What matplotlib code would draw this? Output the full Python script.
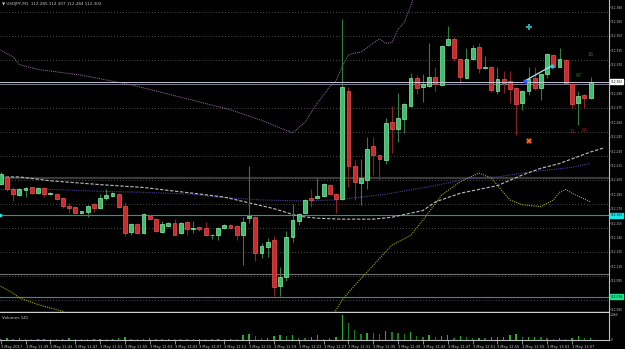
import matplotlib
matplotlib.use("Agg")
import matplotlib.pyplot as plt
import numpy as np

# USDJPY M1, bars from 3 May 11:35
opens = np.array([
    112.196, 112.203, 112.190, 112.184, 112.189, 112.192, 112.186, 112.191, 112.185, 112.185,
    112.181, 112.173, 112.172, 112.165, 112.166, 112.175, 112.171, 112.181, 112.183, 112.185,
    112.173, 112.146, 112.154, 112.145, 112.162, 112.159, 112.146, 112.152, 112.155, 112.145,
    112.156, 112.149, 112.151, 112.150, 112.142, 112.142, 112.150, 112.153, 112.152, 112.143,
    112.160, 112.161, 112.124, 112.130, 112.137, 112.089, 112.099, 112.140, 112.157, 112.165,
    112.181, 112.181, 112.183, 112.195, 112.185, 112.180, 112.293, 112.214, 112.197, 112.200,
    112.235, 112.226, 112.221, 112.260, 112.253, 112.263, 112.277, 112.306, 112.297, 112.298,
    112.307, 112.299, 112.340, 112.347, 112.326, 112.306, 112.326, 112.338, 112.316, 112.318,
    112.293, 112.305, 112.303, 112.296, 112.280, 112.293, 112.306, 112.296, 112.310, 112.330,
    112.318, 112.325, 112.300, 112.280, 112.288, 112.285])
highs = np.array([
    112.208, 112.204, 112.192, 112.191, 112.192, 112.193, 112.192, 112.192, 112.187, 112.186,
    112.182, 112.176, 112.173, 112.168, 112.174, 112.176, 112.185, 112.190, 112.187, 112.186,
    112.177, 112.155, 112.155, 112.165, 112.163, 112.160, 112.157, 112.156, 112.159, 112.156,
    112.157, 112.157, 112.152, 112.156, 112.144, 112.151, 112.154, 112.154, 112.153, 112.161,
    112.214, 112.162, 112.134, 112.139, 112.141, 112.109, 112.147, 112.175, 112.165, 112.180,
    112.190, 112.202, 112.197, 112.196, 112.186, 112.368, 112.297, 112.221, 112.222, 112.245,
    112.245, 112.227, 112.264, 112.277, 112.290, 112.280, 112.311, 112.309, 112.310, 112.342,
    112.317, 112.340, 112.360, 112.349, 112.327, 112.337, 112.340, 112.342, 112.329, 112.319,
    112.317, 112.313, 112.313, 112.297, 112.294, 112.317, 112.318, 112.311, 112.332, 112.331,
    112.337, 112.326, 112.301, 112.293, 112.289, 112.307])
lows = np.array([
    112.195, 112.188, 112.178, 112.183, 112.182, 112.185, 112.185, 112.182, 112.184, 112.179,
    112.171, 112.165, 112.164, 112.164, 112.161, 112.166, 112.170, 112.179, 112.182, 112.171,
    112.141, 112.143, 112.144, 112.144, 112.158, 112.146, 112.145, 112.151, 112.142, 112.144,
    112.143, 112.145, 112.147, 112.142, 112.138, 112.137, 112.149, 112.149, 112.137, 112.111,
    112.155, 112.115, 112.119, 112.120, 112.079, 112.079, 112.095, 112.135, 112.153, 112.164,
    112.172, 112.180, 112.182, 112.184, 112.165, 112.179, 112.192, 112.179, 112.174, 112.190,
    112.205, 112.200, 112.216, 112.228, 112.239, 112.249, 112.276, 112.289, 112.281, 112.297,
    112.293, 112.298, 112.339, 112.324, 112.301, 112.305, 112.325, 112.311, 112.315, 112.291,
    112.289, 112.290, 112.280, 112.247, 112.273, 112.288, 112.294, 112.283, 112.306, 112.316,
    112.317, 112.300, 112.274, 112.257, 112.275, 112.284])
closes = np.array([
    112.206, 112.190, 112.185, 112.190, 112.191, 112.186, 112.191, 112.185, 112.186, 112.180,
    112.173, 112.171, 112.165, 112.167, 112.173, 112.171, 112.181, 112.184, 112.186, 112.172,
    112.145, 112.154, 112.145, 112.164, 112.159, 112.147, 112.154, 112.155, 112.143, 112.155,
    112.149, 112.150, 112.149, 112.143, 112.143, 112.150, 112.153, 112.150, 112.143, 112.156,
    112.162, 112.124, 112.131, 112.135, 112.088, 112.099, 112.140, 112.158, 112.164, 112.179,
    112.179, 112.183, 112.196, 112.185, 112.180, 112.297, 112.214, 112.198, 112.202, 112.232,
    112.226, 112.222, 112.259, 112.253, 112.264, 112.279, 112.306, 112.296, 112.300, 112.307,
    112.300, 112.339, 112.347, 112.327, 112.307, 112.326, 112.337, 112.316, 112.318, 112.294,
    112.305, 112.301, 112.295, 112.279, 112.293, 112.305, 112.296, 112.310, 112.331, 112.318,
    112.326, 112.301, 112.279, 112.287, 112.285, 112.302])
volumes = np.array([
    60, 90, 50, 150, 70, 40, 60, 80, 50, 40, 60, 90, 70, 60, 40, 50, 60, 40, 50, 90,
    170, 60, 40, 50, 90, 60, 40, 70, 50, 60, 40, 50, 60, 50, 40, 70, 60, 80,
    67, 380, 437, 294, 100, 100, 294, 380, 294, 353, 151,
    150, 185, 380, 42, 100, 235, 2060, 1411, 798, 437, 571, 521, 437, 714, 605, 571,
    437, 630, 294, 185, 403, 235, 294, 353, 151, 294, 235, 126, 151, 126, 185, 185,
    235, 353, 437, 185, 235, 235, 185, 151, 42, 100, 67, 126, 269, 100, 141])

# indicator lines (bar index, price)
ma_fast_x = [0, 3, 8, 16, 23, 31, 36, 40, 44, 48, 51, 55, 60, 63, 68, 70, 74, 80, 84, 87, 90, 95, 97]
ma_fast_y = [112.203, 112.203, 112.199, 112.195, 112.192, 112.186, 112.182, 112.176, 112.170, 112.162,
             112.160, 112.159, 112.159, 112.161, 112.168, 112.177, 112.186, 112.194, 112.205, 112.212,
             112.217, 112.229, 112.233]
ma_slow_x = [0, 8, 16, 23, 31, 35, 42, 48, 54, 62, 70, 76, 80, 85, 92, 95]
ma_slow_y = [112.190, 112.190, 112.188, 112.187, 112.185, 112.182, 112.179, 112.178, 112.179, 112.185,
             112.194, 112.202, 112.203, 112.208, 112.213, 112.217]
bb_up_x = [0, 2, 3, 6, 13, 21, 29, 37, 42, 45, 47, 49, 51, 53, 54, 55, 56, 57, 58, 61, 62, 63, 64, 65, 67]
bb_up_y = [112.335, 112.328, 112.320, 112.315, 112.309, 112.299, 112.286, 112.273, 112.262, 112.254,
           112.249, 112.260, 112.280, 112.297, 112.303, 112.318, 112.330, 112.332, 112.333, 112.347,
           112.342, 112.343, 112.357, 112.364, 112.398]
bb_dn_x = [0, 2, 3, 6, 10, 11, 32, 53, 55, 57, 60, 63, 66, 68, 71, 74, 77, 79, 80, 82, 84, 87, 89, 90, 91, 92, 95]
bb_dn_y = [112.089, 112.082, 112.077, 112.070, 112.063, 112.056, 112.028, 112.054, 112.075, 112.090,
           112.111, 112.132, 112.142, 112.158, 112.184, 112.198, 112.207, 112.202, 112.194, 112.179,
           112.174, 112.172, 112.179, 112.187, 112.190, 112.186, 112.177]

grid_levels = [112.375, 112.350, 112.325, 112.300, 112.275, 112.250, 112.225,
               112.200, 112.175, 112.150, 112.125, 112.100, 112.075]
price_ticks = [112.380, 112.365, 112.350, 112.335, 112.320, 112.290, 112.275, 112.260,
               112.245, 112.230, 112.215, 112.200, 112.185, 112.170, 112.155, 112.140,
               112.125, 112.110, 112.095, 112.065]
time_labels = ["3 May 2017", "3 May 11:39", "3 May 11:43", "3 May 11:47", "3 May 11:51",
               "3 May 11:55", "3 May 11:59", "3 May 12:03", "3 May 12:07", "3 May 12:11",
               "3 May 12:15", "3 May 12:19", "3 May 12:23", "3 May 12:27", "3 May 12:31",
               "3 May 12:35", "3 May 12:39", "3 May 12:43", "3 May 12:47", "3 May 12:51",
               "3 May 12:55", "3 May 12:59", "3 May 13:03", "3 May 13:07"]

AXC = '#c0c0c0'
TXT = '#c8c8c8'
FS = 2.1

fig = plt.figure(figsize=(6.25, 3.49), dpi=100, facecolor='black')
ax = fig.add_axes([0, 37 / 349, 609 / 625, 312 / 349], facecolor='black')
vax = fig.add_axes([0, 9 / 349, 609 / 625, 27 / 349], facecolor='black')

xlim = (-0.113, 97.96)

# grid + horizontal levels
for g in grid_levels:
    ax.axhline(g, color='#6a6a6a', lw=0.6, ls=(0, (1, 2.5)), zorder=1)
ax.axhline(112.2015, color='#3a3a3a', lw=1.6, zorder=1)
ax.axhline(112.102, color='#6e6e6e', lw=0.8, zorder=1)
ax.axhline(112.163, color='#1f9a9a', lw=0.8, zorder=1)
ax.axhline(112.078, color='#17a088', lw=0.8, zorder=1)
ax.axhline(112.300, color='#8c8ca4', lw=0.6, zorder=1)
ax.axhline(112.302, color='#c8c8d4', lw=0.7, zorder=5)

# indicators
ax.plot(bb_up_x, bb_up_y, color='#9b6ea3', lw=0.7, ls=(0, (1, 1)), zorder=2)
ax.plot(bb_dn_x, bb_dn_y, color='#a5a51e', lw=0.8, ls=(0, (1, 1)), zorder=2)
ax.plot(ma_slow_x, ma_slow_y, color='#4a3f96', lw=0.8, ls=(0, (1, 1)), zorder=2)
ax.plot(ma_fast_x, ma_fast_y, color='#bdbdbd', lw=0.8, ls=(0, (3, 1.5)), zorder=2)

# candles
x = np.arange(len(opens))
up = closes >= opens
body_lo = np.minimum(opens, closes)
body_h = np.maximum(np.abs(closes - opens), 0.0009)
ax.vlines(x[up], lows[up], highs[up], color='#2f7f3f', lw=0.8, zorder=3)
ax.vlines(x[~up], lows[~up], highs[~up], color='#8a2222', lw=0.8, zorder=3)
ax.bar(x[up], body_h[up], bottom=body_lo[up], width=0.62, color='#3cbf6c',
       edgecolor='#8cf0aa', lw=0.5, zorder=4)
ax.bar(x[~up], body_h[~up], bottom=body_lo[~up], width=0.62, color='#cf2a2a',
       edgecolor='#ee5555', lw=0.5, zorder=4)

# drawn objects
ax.plot([84.4, 88.8], [112.303, 112.319], color='#9ff0f0', lw=0.9, zorder=6)
ax.plot([84.4], [112.303], marker='o', ms=2, color='#3060ff', zorder=7)
ax.plot([88.8], [112.319], marker='o', ms=2, color='#30c8e8', zorder=7)
ax.plot([85], [112.359], marker='P', ms=5, color='#2aa7a7', mew=0, zorder=7)
ax.plot([85], [112.240], marker='X', ms=4, color='#ff6a1a', mew=0, zorder=7)
ax.text(94.9, 112.331, "16", color='#1e7a32', fontsize=3.4, ha='center', va='center', zorder=7)
ax.text(93, 112.309, "67", color='#1e7a32', fontsize=3.4, ha='center', va='center', zorder=7)
ax.text(92, 112.250, "11", color='#b01c1c', fontsize=3.4, ha='center', va='center', zorder=7)
ax.text(94, 112.251, "04", color='#b01c1c', fontsize=3.4, ha='center', va='center', zorder=7)

ax.set_xlim(*xlim)
ax.set_ylim(112.0623, 112.3873)
ax.set_xticks([])
ax.yaxis.tick_right()
ax.set_yticks(price_ticks)
ax.set_yticklabels([f"{p:.3f}" for p in price_ticks])
ax.tick_params(axis='y', colors=AXC, labelcolor=TXT, labelsize=FS, length=1, width=0.5, pad=0.5)
for s in ['top', 'left']:
    ax.spines[s].set_visible(False)
ax.spines['right'].set_color(AXC)
ax.spines['bottom'].set_color('#d0d0d0')
ax.spines['right'].set_linewidth(0.8)
ax.spines['bottom'].set_linewidth(1.0)

# price boxes on the scale
box_kw = dict(transform=ax.get_yaxis_transform(), fontsize=FS, ha='left', va='center', zorder=10,
              clip_on=False)
ax.text(1.003, 112.302, "112.302", color='black',
        bbox=dict(boxstyle='square,pad=0.15', fc='white', ec='white'), **box_kw)
ax.text(1.003, 112.163, "112.163", color='black',
        bbox=dict(boxstyle='square,pad=0.15', fc='#19e6e6', ec='#19e6e6'), **box_kw)
ax.text(1.003, 112.078, "112.078", color='black',
        bbox=dict(boxstyle='square,pad=0.15', fc='#19e68c', ec='#19e68c'), **box_kw)
ax.plot([-0.1], [112.163], marker='s', ms=1.6, color='#19e6e6', zorder=8, clip_on=False)

fig.text(2 / 625, 1 - 4 / 349, f"\u25bc USDJPY,M1  {opens[-1]:.3f} {highs[-1]:.3f} {lows[-1]:.3f} {closes[-1]:.3f}",
         color=TXT, fontsize=3.0, va='center', ha='left')

# volume window
vcol = ['#22b422' if i == 0 or volumes[i] >= volumes[i - 1] else '#13801a' for i in range(len(volumes))]
vax.bar(x, volumes, width=0.22, color=vcol, zorder=3)
vax.set_xlim(*xlim)
vax.set_ylim(-42, 2226)
vax.yaxis.tick_right()
vax.set_yticks([0, 2060])
vax.set_yticklabels(["0", "2060"])
vax.tick_params(axis='y', colors=AXC, labelcolor=TXT, labelsize=FS, length=1, width=0.5, pad=0.5)
vax.set_xticks(np.arange(0, 96, 4))
vax.set_xticklabels(time_labels)
vax.tick_params(axis='x', colors=AXC, labelcolor=TXT, labelsize=2.6, length=3, width=0.5, pad=0.5)
for lbl in vax.get_xticklabels():
    lbl.set_horizontalalignment('left')
for s in ['top', 'left']:
    vax.spines[s].set_visible(False)
vax.spines['right'].set_color(AXC)
vax.spines['bottom'].set_color(AXC)
vax.spines['right'].set_linewidth(0.8)
vax.spines['bottom'].set_linewidth(0.8)
vax.text(0.003, 0.8, f"Volumes {volumes[-1]}", transform=vax.transAxes, color=TXT,
         fontsize=3.0, ha='left', va='center')

fig.savefig("out.png", dpi=100, facecolor='black')
